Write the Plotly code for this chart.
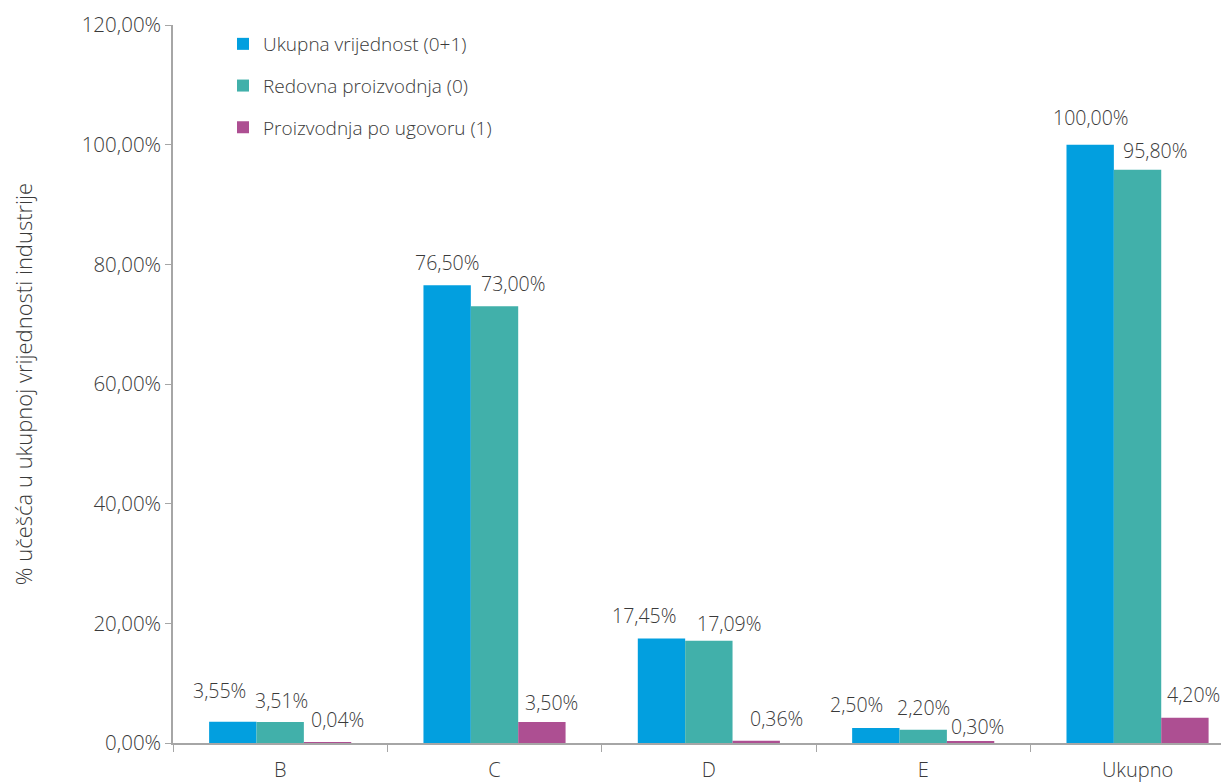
import plotly.graph_objects as go

categories = ["B", "C", "D", "E", "Ukupno"]
series_names = ["Ukupna vrijednost (0+1)", "Redovna proizvodnja (0)", "Proizvodnja po ugovoru (1)"]
ukupna = [3.55, 76.50, 17.45, 2.50, 100.00]
redovna = [3.51, 73.00, 17.09, 2.20, 95.80]
ugovor = [0.04, 3.50, 0.36, 0.30, 4.20]
y_ticks = [0, 20, 40, 60, 80, 100, 120]
y_tick_labels = ["0,00%", "20,00%", "40,00%", "60,00%", "80,00%", "100,00%", "120,00%"]
y_title = "% učešća u ukupnoj vrijednosti industrije"

colors = ["#029FDF", "#41B0AA", "#AD4F92"]
series = [ukupna, redovna, ugovor]

# label offsets (style only): per series, per category (pixels, relative to bar centre / bar top)
label_xshift = [[-14, -1, -18, -20, 0],
                [1, 18, 20, 0, 17],
                [10, 10, 21, 7, 9]]
label_yshift = [[31, 23, 23, 24, 27],
                [22, 23, 17, 22, 19],
                [23, 20, 22, 15, 23]]
bar_offset_px = [-47, 0, 47]

font_family = "Open Sans"
text_color = "#3a3a3a"

def f(size):
    return dict(family=font_family, size=size, color=text_color, weight=300)

fig = go.Figure()
for i, (name, vals) in enumerate(zip(series_names, series)):
    fig.add_trace(go.Bar(
        x=categories, y=vals, name=name, marker_color=colors[i],
        marker_line_width=0, legendgroup=str(i),
    ))

def fmt(v):
    return f"{v:.2f}".replace(".", ",") + "%"

for i, vals in enumerate(series):
    for j, (c, v) in enumerate(zip(categories, vals)):
        fig.add_annotation(
            x=c, y=v, text=fmt(v), showarrow=False,
            xshift=bar_offset_px[i] + label_xshift[i][j],
            yshift=label_yshift[i][j],
            font=f(19.5),
        )

fig.update_layout(
    width=1229, height=782,
    margin=dict(l=165, r=0, t=17, b=47),
    paper_bgcolor="white", plot_bgcolor="white",
    barmode="group", bargap=0.337, bargroupgap=0,
    font=f(19),
    showlegend=True,
    legend=dict(
        x=0.047, y=1.0, xanchor="left", yanchor="top",
        bgcolor="rgba(0,0,0,0)", tracegroupgap=14,
        font=f(19),
        itemwidth=30,
    ),
    xaxis=dict(
        range=[-0.5, 4.464],
        showline=True, linecolor="#A6A6A6", linewidth=1.5,
        ticks="outside", tickson="boundaries", ticklen=7, tickcolor="#A6A6A6",
        tickfont=f(20), ticklabelstandoff=8,
        showgrid=False,
    ),
    yaxis=dict(
        range=[0, 120], tickvals=y_ticks, ticktext=y_tick_labels,
        showline=True, linecolor="#A6A6A6", linewidth=1.5,
        ticks="outside", ticklen=6, tickcolor="#A6A6A6",
        showgrid=False, zeroline=False,
        tickfont=f(20.5),
        title=dict(text=y_title, font=f(22), standoff=48),
    ),
)

fig.write_html("out.html")
